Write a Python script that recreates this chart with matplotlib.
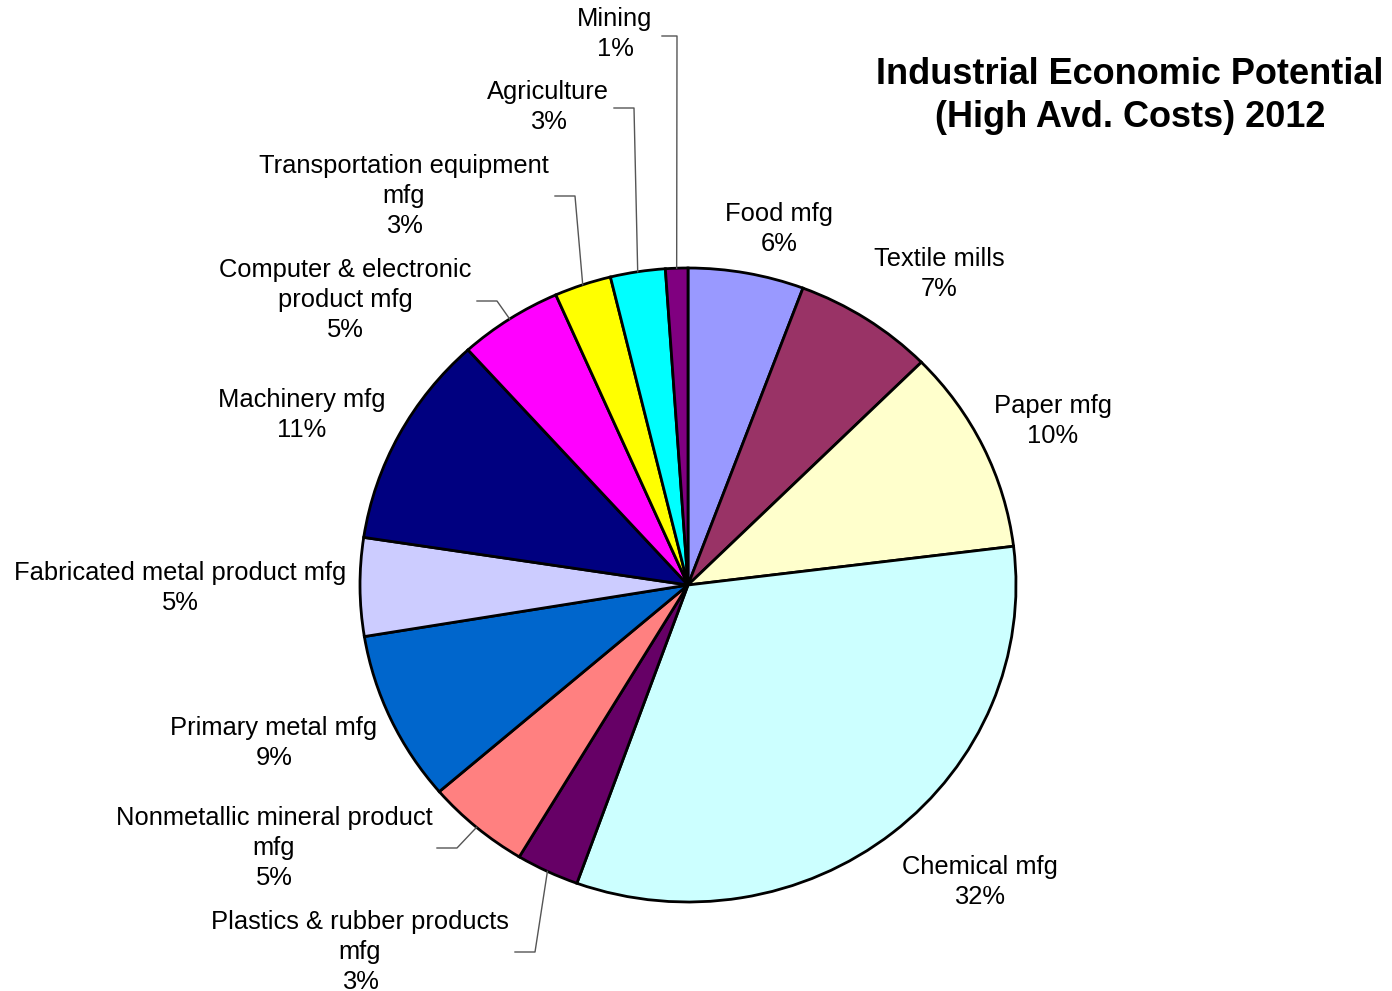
import numpy as np
import matplotlib
matplotlib.use("Agg")
import matplotlib.pyplot as plt

# sector shares (%), clockwise from 12 o'clock
sectors = [
    "Food mfg",
    "Textile mills",
    "Paper mfg",
    "Chemical mfg",
    "Plastics & rubber products\nmfg",
    "Nonmetallic mineral product\nmfg",
    "Primary metal mfg",
    "Fabricated metal product mfg",
    "Machinery mfg",
    "Computer & electronic\nproduct mfg",
    "Transportation equipment\nmfg",
    "Agriculture",
    "Mining",
]
shares = [5.7, 6.9, 10.45, 32.45, 3.1, 5.1, 8.7, 5.0, 10.9, 5.1, 2.8, 2.7, 1.1]
slice_colors = [
    "#9999FF", "#993366", "#FFFFCC", "#CCFFFF", "#660066", "#FF8080",
    "#0066CC", "#CCCCFF", "#000080", "#FF00FF", "#FFFF00", "#00FFFF", "#800080",
]

# label layout in pixels (centre of each label block)
W, H = 1392, 991
cx, cy = 688, 585          # pie centre
rx, ry = 328, 317          # horizontal / vertical radius
label_px = [
    (779, 229), (939, 274), (1053, 421), (980, 882), (360, 952),
    (274, 848), (274, 743), (180, 588), (302, 415), (345, 300),
    (404, 196), (548, 107), (615, 34),
]
# leader lines: index -> (start of horizontal stub, elbow)
leaders = {
    12: [(662, 36), (677, 36)],
    11: [(614, 108), (634, 108)],
    10: [(555, 196), (575, 196)],
    9: [(477, 301), (497, 301)],
    5: [(437, 848), (457, 848)],
    4: [(515, 952), (535, 952)],
}


def to_data(px, py):
    return (px - cx) / rx, (cy - py) / ry


fig = plt.figure(figsize=(W / 100, H / 100), dpi=100)
ax = fig.add_axes([0, 0, 1, 1])

wedges, _ = ax.pie(
    shares,
    colors=slice_colors,
    startangle=90,
    counterclock=False,
    radius=1.0,
    wedgeprops=dict(edgecolor="black", linewidth=2),
)

ax.set_aspect("auto")
ax.set_xlim(-cx / rx, (W - cx) / rx)
ax.set_ylim(-(H - cy) / ry, cy / ry)
ax.axis("off")

for i, (name, val) in enumerate(zip(sectors, shares)):
    x, y = to_data(*label_px[i])
    ax.text(x, y, f"{name}\n{val:.0f}%", ha="center", va="center",
            fontsize=18.4, family="Liberation Sans", linespacing=1.3)

for i, pts in leaders.items():
    w = wedges[i]
    mid = np.deg2rad((w.theta1 + w.theta2) / 2)
    end = (np.cos(mid), np.sin(mid))
    xs = [to_data(*p)[0] for p in pts] + [end[0]]
    ys = [to_data(*p)[1] for p in pts] + [end[1]]
    ax.plot(xs, ys, color="#555555", linewidth=1.0)

tx, ty = to_data(1130, 96)
ax.text(tx, ty, "Industrial Economic Potential\n(High Avd. Costs) 2012",
        ha="center", va="center", fontsize=26, fontweight="bold",
        family="Liberation Sans", linespacing=1.32)

fig.savefig("out.png", dpi=100)
